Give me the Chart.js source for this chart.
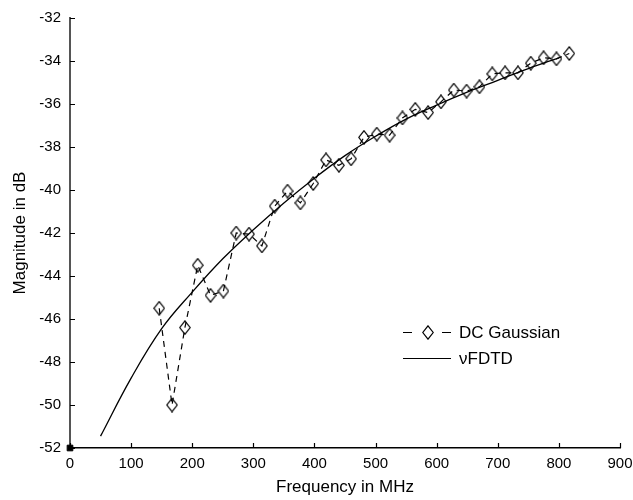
<!DOCTYPE html>
<html>
<head>
<meta charset="utf-8">
<script src="https://cdn.jsdelivr.net/npm/chart.js@4.4.0/dist/chart.umd.min.js"></script>
<style>
  html, body { margin: 0; padding: 0; background: #fff; }
  #wrap { width: 633px; height: 500px; }
</style>
</head>
<body>
<div id="wrap"><canvas id="chart" width="633" height="500"></canvas></div>
<script>
// DC Gaussian measurements (dashed line with diamonds)
const dcFreq = [146, 167, 188, 209, 230, 251, 272, 293, 314, 335, 356, 377, 398, 419, 440, 460, 481,
                502, 523, 544, 565, 586, 607, 628, 649, 670, 691, 712, 733, 754, 775, 796, 817];
const dcMag = [-45.5, -50.0, -46.4, -43.5, -44.9, -44.7, -42.0, -42.05, -42.6, -40.75, -40.05, -40.6,
               -39.7, -38.6, -38.85, -38.55, -37.55, -37.4, -37.45, -36.65, -36.25, -36.4, -35.9,
               -35.35, -35.4, -35.2, -34.6, -34.55, -34.55, -34.1, -33.85, -33.9, -33.65];

// vFDTD curve (solid line)
const fdtdFreq = [50, 100, 150, 200, 250, 300, 350, 400, 450, 500, 550, 600, 650, 700, 750, 800];
const fdtdMag = [-51.45, -48.75, -46.45, -44.75, -43.2, -41.85, -40.6, -39.45, -38.4, -37.5,
                 -36.7, -36.05, -35.45, -34.9, -34.35, -33.85];

// marker at the origin
const originPoint = [{ x: 0, y: -52 }];

const xTicks = [0, 100, 200, 300, 400, 500, 600, 700, 800, 900];
const yTicks = [-52, -50, -48, -46, -44, -42, -40, -38, -36, -34, -32];

const FONT = '"Liberation Sans", Arial, Helvetica, sans-serif';

function makeDiamond(w, h) {
    const c = document.createElement('canvas');
    c.width = w;
    c.height = h;
    const g = c.getContext('2d');
    g.strokeStyle = '#000';
    g.lineWidth = 1.2;
    g.beginPath();
    g.moveTo(w / 2, 0.8);
    g.lineTo(w - 0.8, h / 2);
    g.lineTo(w / 2, h - 0.8);
    g.lineTo(0.8, h / 2);
    g.closePath();
    g.stroke();
    return c;
}
const diamond = makeDiamond(12, 15);

// short tick marks pointing into the plot
const inwardTicks = {
    id: 'inwardTicks',
    afterDatasetsDraw(chart) {
        const ctx = chart.ctx;
        const x = chart.scales.x, y = chart.scales.y;
        const area = chart.chartArea;
        ctx.save();
        ctx.strokeStyle = '#000';
        ctx.lineWidth = 1.2;
        ctx.beginPath();
        xTicks.forEach(v => {
            const px = Math.round(x.getPixelForValue(v)) + 0.5;
            ctx.moveTo(px, area.bottom);
            ctx.lineTo(px, area.bottom - 5);
        });
        yTicks.forEach(v => {
            const py = Math.round(y.getPixelForValue(v)) + 0.5;
            ctx.moveTo(area.left, py);
            ctx.lineTo(area.left + 5, py);
        });
        ctx.stroke();
        ctx.restore();
    }
};

// legend placed inside the plot area
const innerLegend = {
    id: 'innerLegend',
    afterDraw(chart) {
        const ctx = chart.ctx;
        ctx.save();
        ctx.strokeStyle = '#000';
        ctx.lineWidth = 1.2;
        ctx.beginPath();
        ctx.moveTo(403, 332.5); ctx.lineTo(412, 332.5);
        ctx.moveTo(442, 332.5); ctx.lineTo(451, 332.5);
        ctx.stroke();
        ctx.drawImage(diamond, 428 - diamond.width / 2, 332.5 - diamond.height / 2);
        ctx.beginPath();
        ctx.moveTo(403, 358.5); ctx.lineTo(451, 358.5);
        ctx.stroke();
        ctx.fillStyle = '#000';
        ctx.font = '17px ' + FONT;
        ctx.textBaseline = 'middle';
        ctx.textAlign = 'left';
        ctx.fillText('DC Gaussian', 459, 333);
        ctx.fillText('\u03BDFDTD', 459, 359);
        ctx.restore();
    }
};

new Chart(document.getElementById('chart'), {
    type: 'scatter',
    data: {
        datasets: [
            {
                label: 'DC Gaussian',
                data: dcFreq.map((f, i) => ({ x: f, y: dcMag[i] })),
                showLine: true,
                borderColor: '#000',
                borderWidth: 1.2,
                borderDash: [6, 5],
                pointStyle: diamond,
                pointRadius: 6,
                tension: 0
            },
            {
                label: '\u03BDFDTD',
                data: fdtdFreq.map((f, i) => ({ x: f, y: fdtdMag[i] })),
                showLine: true,
                borderColor: '#000',
                borderWidth: 1.3,
                pointRadius: 0,
                tension: 0.4
            },
            {
                label: 'origin',
                data: originPoint,
                pointStyle: 'rect',
                pointRadius: 4,
                backgroundColor: '#000',
                borderColor: '#000',
                clip: false
            }
        ]
    },
    options: {
        responsive: false,
        animation: false,
        layout: { padding: { left: 0, right: 13, top: 17, bottom: 0 } },
        plugins: {
            legend: { display: false },
            tooltip: { enabled: false }
        },
        scales: {
            x: {
                type: 'linear',
                min: 0,
                max: 900,
                afterBuildTicks: s => { s.ticks = xTicks.map(v => ({ value: v })); },
                afterFit: s => { s.height = 52; s.paddingRight = 0; s.paddingLeft = 0; },
                grid: { display: false, drawTicks: false },
                border: { display: true, color: '#000', width: 1.5 },
                ticks: { color: '#000', padding: 7, maxRotation: 0, font: { family: FONT, size: 15 } },
                title: {
                    display: true,
                    text: 'Frequency in MHz',
                    color: '#000',
                    padding: { top: 0, bottom: 2 },
                    font: { family: FONT, size: 17 }
                }
            },
            y: {
                type: 'linear',
                min: -52,
                max: -32,
                afterBuildTicks: s => { s.ticks = yTicks.map(v => ({ value: v })); },
                afterFit: s => { s.width = 70; },
                grid: { display: false, drawTicks: false },
                border: { display: true, color: '#555', width: 2 },
                ticks: { color: '#000', padding: 9, font: { family: FONT, size: 15 } },
                title: {
                    display: true,
                    text: 'Magnitude in dB',
                    color: '#000',
                    padding: { top: 10, bottom: 0 },
                    font: { family: FONT, size: 17 }
                }
            }
        }
    },
    plugins: [inwardTicks, innerLegend]
});
</script>
</body>
</html>
